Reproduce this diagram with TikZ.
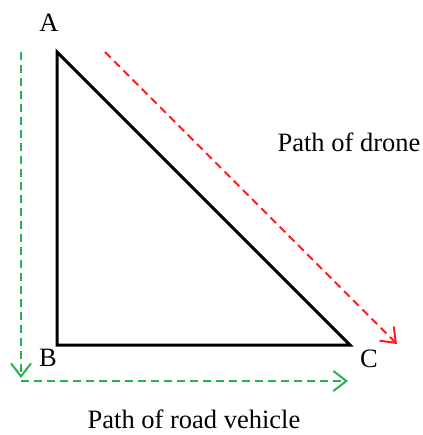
\documentclass[tikz,border=0pt]{standalone}
\usepackage{fontspec}
\setmainfont{Liberation Serif}
\usetikzlibrary{arrows.meta}
\definecolor{pathgreen}{RGB}{38,178,82}
\definecolor{pathred}{RGB}{250,30,35}
\begin{document}
\begin{tikzpicture}[x=1pt,y=-1pt,
  lbl/.style={font=\fontsize{26.5}{30}\selectfont, inner sep=0pt, anchor=base},
  tri/.style={draw=black, line width=3pt, line join=miter},
  dpath/.style={line width=2pt, dash pattern=on 8pt off 5pt, -{Straight Barb[length=13pt,width=20pt,line width=2pt]}}]
\useasboundingbox (0,0) rectangle (422,435);
\coordinate (A) at (57,52);
\coordinate (B) at (57,345);
\coordinate (C) at (350,345);
\draw[tri] (A) -- (B) -- (C) -- cycle;
\node[lbl] (lA) at (49,32) {A};
\node[lbl] (lB) at (48,366) {B};
\node[lbl] (lC) at (369,367) {C};
\coordinate (rs) at (105,52);
\coordinate (re) at (397,344);
\draw[dpath, draw=pathred] (rs) -- (re);
\coordinate (gs) at (21,52);
\coordinate (gc) at (21,378);
\coordinate (hs) at (21,381);
\coordinate (he) at (348,381);
\draw[dpath, draw=pathgreen] (gs) -- (gc);
\draw[dpath, draw=pathgreen] (hs) -- (he);
\node[lbl] (drone) at (349,152) {Path of drone};
\node[lbl] (road) at (194,428) {Path of road vehicle};
\end{tikzpicture}
\end{document}
